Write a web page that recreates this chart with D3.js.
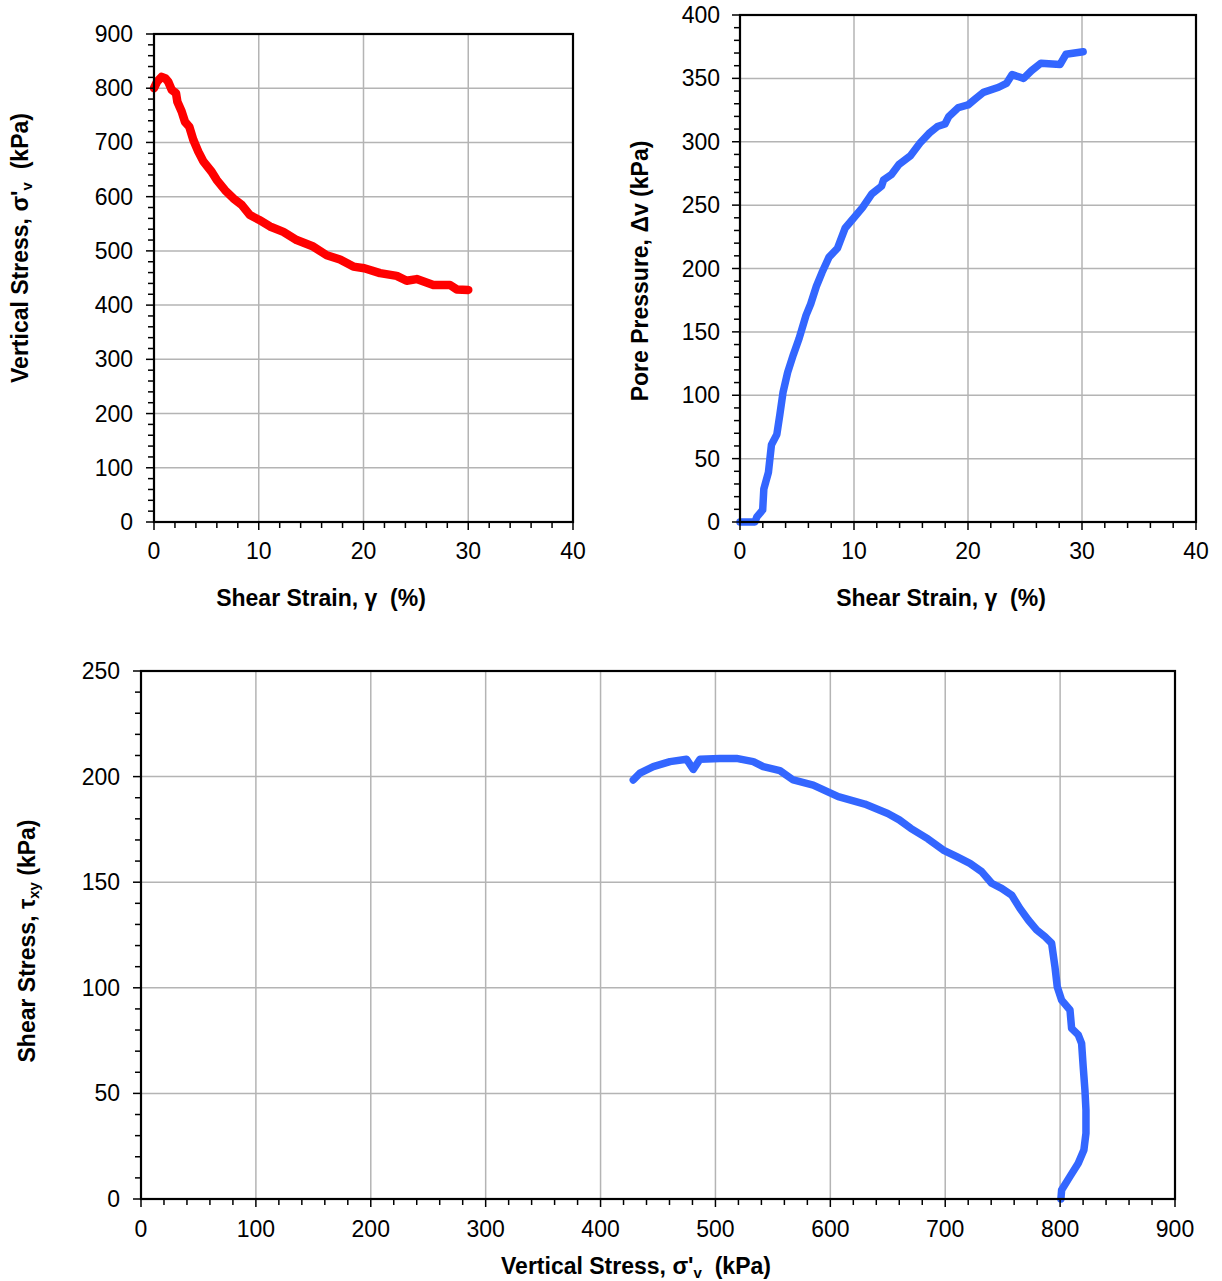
<!DOCTYPE html>
<html>
<head>
<meta charset="utf-8">
<script src="https://cdn.jsdelivr.net/npm/d3@7"></script>
<style>
  body { margin: 0; background: #fff; }
  svg { display: block; font-family: "Liberation Sans", Arial, sans-serif; }
</style>
</head>
<body>
<svg id="chart" width="1222" height="1281"></svg>
<script>
// ---- Data ----
// Panel 1: vertical stress vs shear strain
const strainA = [0, 0.3, 0.73, 1.1, 1.36, 1.69, 2.1, 2.23, 2.64, 2.96, 3.37, 3.75, 4.23, 4.71, 5.5, 5.98, 6.78, 7.57, 8.37, 9.16, 10.05, 11.07, 12.35, 13.62, 15.2, 16.49, 17.76, 19.03, 20.08, 21.58, 23.17, 24.12, 25.08, 26.67, 28.26, 28.9, 30.0];
const sigmaA  = [800, 812, 821, 818, 812, 797, 791, 775, 757, 738, 729, 705, 683, 665, 646, 631, 612, 597, 585, 566, 557, 545, 535, 520, 508, 492, 484, 471, 468, 459, 454, 445, 448, 437, 437, 429, 428];

// Panel 2: pore pressure vs shear strain
const strainB = [0, 0.5, 1.0, 1.31, 1.48, 1.99, 2.09, 2.49, 2.76, 3.23, 3.5, 3.77, 4.18, 4.68, 5.19, 5.79, 6.2, 6.7, 7.2, 7.81, 8.55, 9.23, 9.9, 10.74, 11.58, 12.42, 12.6, 13.27, 13.94, 14.95, 15.79, 16.63, 17.31, 17.98, 18.32, 19.16, 20.0, 20.67, 21.35, 22.69, 23.37, 23.87, 24.88, 25.56, 26.4, 28.08, 28.59, 30.1];
const poreB   = [0, 0, 0, 0, 4, 9.5, 26, 39, 61, 69, 85, 102, 118, 132, 145, 163, 172, 186, 197, 209, 216, 232, 239, 248, 259, 265, 270, 274, 282, 289, 299, 307, 312, 314, 320, 327, 329, 334, 339, 343, 346, 353, 350, 356, 362, 361, 369, 371];

// Panel 3: shear stress vs vertical stress (stress path)
const sigmaC = [800.7, 801.3, 808.5, 815.8, 820.7, 822.5, 822.5, 821.6, 820.1, 818.7, 815.8, 810, 808.6, 801.3, 797.5, 795.5, 792.6, 786.8, 779.5, 772.3, 765, 757.8, 749.1, 740.4, 731.7, 721.5, 710, 698.3, 685, 670, 660, 650, 630, 606.9, 585.1, 567.7, 556.1, 541.6, 532.9, 518.4, 503.9, 486.5, 480.7, 474.9, 460.4, 445.9, 434.3, 428.5];
const tauC   = [0, 4.3, 10.6, 16.9, 23.2, 31.1, 42.1, 51.6, 62.6, 73.7, 77.7, 80.8, 89.5, 94.2, 100.5, 110, 121.1, 124.2, 127.4, 132.1, 137.6, 143.9, 147.1, 149.5, 155, 158.9, 162.1, 165.2, 170.5, 175.5, 179.5, 182.5, 187, 190.5, 196, 198.4, 202.8, 204.7, 207.1, 208.6, 208.6, 208.2, 203.4, 208.2, 207.1, 204.7, 201.6, 198.4];

// Tick labels
const strainTicks = [0, 10, 20, 30, 40];
const sigmaTicksA = [0, 100, 200, 300, 400, 500, 600, 700, 800, 900];
const poreTicks   = [0, 50, 100, 150, 200, 250, 300, 350, 400];
const sigmaTicksC = [0, 100, 200, 300, 400, 500, 600, 700, 800, 900];
const tauTicks    = [0, 50, 100, 150, 200, 250];

const svg = d3.select("#chart");
const FS = 23;

function panel(opt) {
  const x = d3.scaleLinear().domain(opt.xDomain).range([opt.left, opt.right]);
  const y = d3.scaleLinear().domain(opt.yDomain).range([opt.bottom, opt.top]);
  const g = svg.append("g");

  // gridlines
  g.selectAll(".gx").data(opt.xTicks.slice(1, -1)).enter().append("line")
    .attr("x1", d => x(d)).attr("x2", d => x(d))
    .attr("y1", opt.top).attr("y2", opt.bottom)
    .attr("stroke", "#b4b4b4").attr("stroke-width", 1.5);
  g.selectAll(".gy").data(opt.yTicks.slice(1, -1)).enter().append("line")
    .attr("y1", d => y(d)).attr("y2", d => y(d))
    .attr("x1", opt.left).attr("x2", opt.right)
    .attr("stroke", "#b4b4b4").attr("stroke-width", 1.5);

  // curve
  const pts = opt.xs.map((v, i) => [v, opt.ys[i]]);
  g.append("path").datum(pts)
    .attr("d", d3.line().x(d => x(d[0])).y(d => y(d[1])))
    .attr("fill", "none").attr("stroke", opt.color)
    .attr("stroke-width", opt.width)
    .attr("stroke-linejoin", "round").attr("stroke-linecap", "round");

  // minor ticks
  const xMinor = d3.range(opt.xDomain[0], opt.xDomain[1] + 1e-9, opt.xMinor);
  const yMinor = d3.range(opt.yDomain[0], opt.yDomain[1] + 1e-9, opt.yMinor);
  g.selectAll(".mx").data(xMinor).enter().append("line")
    .attr("x1", d => x(d)).attr("x2", d => x(d))
    .attr("y1", opt.bottom).attr("y2", d => opt.bottom + (opt.xTicks.includes(d) ? 8 : 6))
    .attr("stroke", "#000").attr("stroke-width", 1.5);
  g.selectAll(".my").data(yMinor).enter().append("line")
    .attr("y1", d => y(d)).attr("y2", d => y(d))
    .attr("x1", opt.left).attr("x2", d => opt.left - (opt.yTicks.includes(d) ? 8 : 6))
    .attr("stroke", "#000").attr("stroke-width", 1.5);

  // frame
  g.append("rect")
    .attr("x", opt.left).attr("y", opt.top)
    .attr("width", opt.right - opt.left).attr("height", opt.bottom - opt.top)
    .attr("fill", "none").attr("stroke", "#000").attr("stroke-width", 2.2);

  // tick labels
  g.selectAll(".lx").data(opt.xTicks).enter().append("text")
    .attr("x", d => x(d)).attr("y", opt.bottom + opt.xLabOff)
    .attr("text-anchor", "middle").attr("font-size", FS).attr("fill", "#000")
    .text(d => d);
  g.selectAll(".ly").data(opt.yTicks).enter().append("text")
    .attr("x", opt.left - opt.yLabGap).attr("y", d => y(d) + 8)
    .attr("text-anchor", "end").attr("font-size", FS).attr("fill", "#000")
    .text(d => d);
  return { x, y, g };
}

function addTitle(x, y, rotate, parts) {
  const t = svg.append("text")
    .attr("font-size", FS).attr("font-weight", "bold").attr("fill", "#000")
    .attr("text-anchor", "middle")
    .attr("transform", `translate(${x},${y})` + (rotate ? " rotate(-90)" : ""));
  parts.forEach(p => {
    const ts = t.append("tspan").text(p.t);
    if (p.sub) ts.attr("font-size", 15).attr("baseline-shift", "-25%");
  });
  return t;
}

// Panel 1
panel({
  left: 154, right: 573, top: 34, bottom: 522,
  xDomain: [0, 40], yDomain: [0, 900],
  xTicks: strainTicks, yTicks: sigmaTicksA, xMinor: 2, yMinor: 20,
  xs: strainA, ys: sigmaA, color: "#ff0000", width: 8.5,
  xLabOff: 37, yLabGap: 21
});
addTitle(321, 606, false, [{ t: "Shear Strain, γ\u00a0\u00a0(%)" }]);
addTitle(28, 248, true, [{ t: "Vertical Stress, σ'" }, { t: "v", sub: true }, { t: "\u00a0\u00a0(kPa)" }]);

// Panel 2
panel({
  left: 740, right: 1196, top: 15, bottom: 522,
  xDomain: [0, 40], yDomain: [0, 400],
  xTicks: strainTicks, yTicks: poreTicks, xMinor: 2, yMinor: 10,
  xs: strainB, ys: poreB, color: "#3366ff", width: 7.5,
  xLabOff: 37, yLabGap: 20
});
addTitle(941, 606, false, [{ t: "Shear Strain, γ\u00a0\u00a0(%)" }]);
addTitle(648, 271, true, [{ t: "Pore Pressure, Δv (kPa)" }]);

// Panel 3
panel({
  left: 141, right: 1175, top: 671, bottom: 1199,
  xDomain: [0, 900], yDomain: [0, 250],
  xTicks: sigmaTicksC, yTicks: tauTicks, xMinor: 20, yMinor: 10,
  xs: sigmaC, ys: tauC, color: "#3366ff", width: 7.5,
  xLabOff: 38, yLabGap: 21
});
addTitle(636, 1274, false, [{ t: "Vertical Stress, σ'" }, { t: "v", sub: true }, { t: "\u00a0\u00a0(kPa)" }]);
addTitle(35, 941, true, [{ t: "Shear Stress, τ" }, { t: "xy", sub: true }, { t: " (kPa)" }]);
</script>
</body>
</html>
